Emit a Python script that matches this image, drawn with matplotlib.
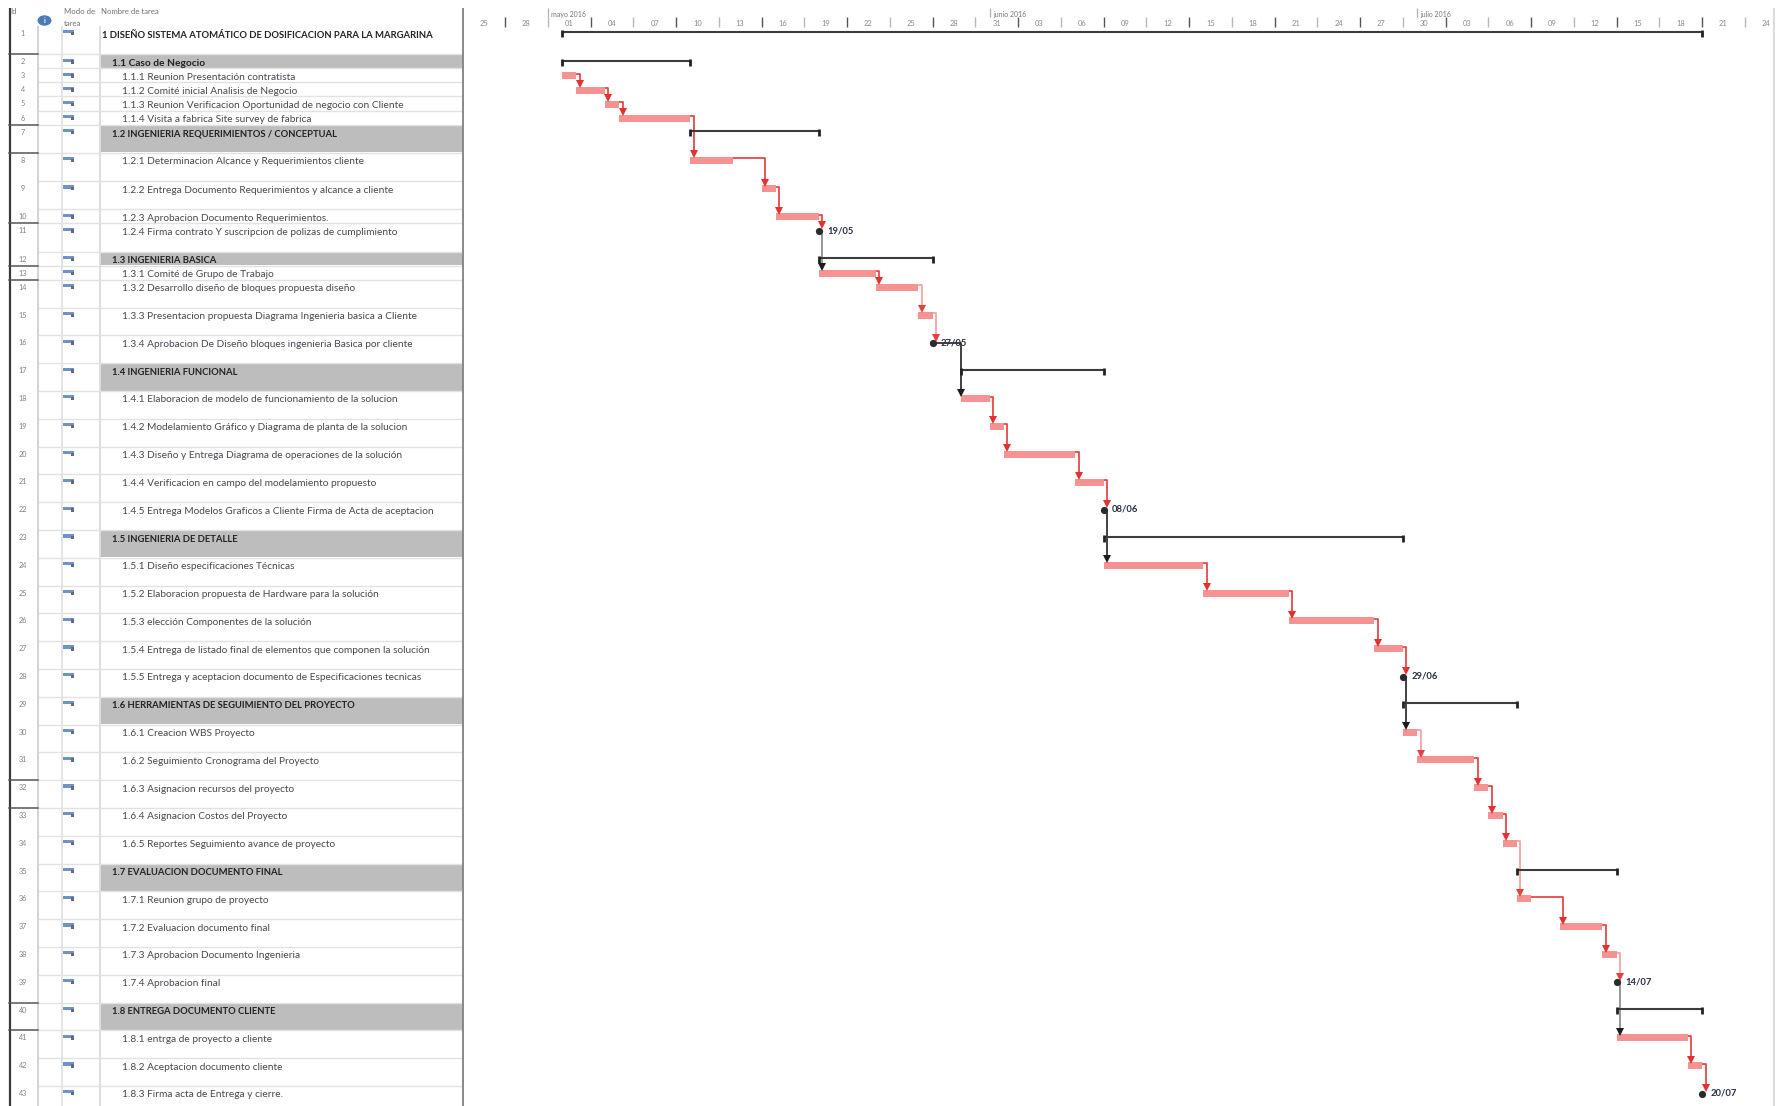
import matplotlib
matplotlib.use("Agg")
import matplotlib.pyplot as plt
import matplotlib.dates as mdates
from matplotlib.patches import Rectangle, Ellipse
from datetime import date, timedelta

plt.rcParams['font.family'] = ['Lato', 'DejaVu Sans']

W, H = 1783, 1106

task_names = [
    "1 DISEÑO SISTEMA ATOMÁTICO DE DOSIFICACION PARA LA MARGARINA",
    "1.1 Caso de Negocio",
    "1.1.1 Reunion Presentación contratista",
    "1.1.2 Comité inicial Analisis de Negocio",
    "1.1.3 Reunion Verificacion Oportunidad de negocio con Cliente",
    "1.1.4 Visita a fabrica Site survey de fabrica",
    "1.2 INGENIERIA REQUERIMIENTOS / CONCEPTUAL",
    "1.2.1 Determinacion Alcance y Requerimientos cliente",
    "1.2.2 Entrega Documento Requerimientos y alcance a cliente",
    "1.2.3 Aprobacion Documento Requerimientos.",
    "1.2.4 Firma contrato Y suscripcion de polizas de cumplimiento",
    "1.3 INGENIERIA BASICA",
    "1.3.1 Comité de Grupo de Trabajo",
    "1.3.2 Desarrollo diseño de bloques propuesta diseño",
    "1.3.3 Presentacion propuesta Diagrama Ingenieria basica a Cliente",
    "1.3.4 Aprobacion De Diseño bloques ingenieria Basica por cliente",
    "1.4 INGENIERIA FUNCIONAL",
    "1.4.1 Elaboracion de modelo de funcionamiento de la solucion",
    "1.4.2 Modelamiento Gráfico y Diagrama de planta de la solucion",
    "1.4.3 Diseño y Entrega Diagrama de operaciones de la solución",
    "1.4.4 Verificacion en campo del modelamiento propuesto",
    "1.4.5 Entrega Modelos Graficos a Cliente Firma de Acta de aceptacion",
    "1.5 INGENIERIA DE DETALLE",
    "1.5.1 Diseño especificaciones Técnicas",
    "1.5.2 Elaboracion propuesta de Hardware para la solución",
    "1.5.3 elección Componentes de la solución",
    "1.5.4 Entrega de listado final de elementos que componen la solución",
    "1.5.5 Entrega y aceptacion documento de Especificaciones tecnicas",
    "1.6 HERRAMIENTAS DE SEGUIMIENTO DEL PROYECTO",
    "1.6.1 Creacion WBS Proyecto",
    "1.6.2 Seguimiento Cronograma del Proyecto",
    "1.6.3 Asignacion recursos del proyecto",
    "1.6.4 Asignacion Costos del Proyecto",
    "1.6.5 Reportes Seguimiento avance de proyecto",
    "1.7 EVALUACION DOCUMENTO FINAL",
    "1.7.1 Reunion grupo de proyecto",
    "1.7.2 Evaluacion documento final",
    "1.7.3 Aprobacion Documento Ingenieria",
    "1.7.4 Aprobacion final",
    "1.8 ENTREGA DOCUMENTO CLIENTE",
    "1.8.1 entrga de proyecto a cliente",
    "1.8.2 Aceptacion documento cliente",
    "1.8.3 Firma acta de Entrega y cierre.",
]
# 0 project, 1 summary, 2 task, 3 milestone
task_kind = [0, 1, 2, 2, 2, 2, 1, 2, 2, 2, 3, 1, 2, 2, 2, 3, 1, 2, 2, 2, 2, 3,
             1, 2, 2, 2, 2, 3, 1, 2, 2, 2, 2, 2, 1, 2, 2, 2, 3, 1, 2, 2, 3]
row_units = [2, 1, 1, 1, 1, 1, 2, 2, 2, 1, 2, 1, 1] + [2] * 30
# days counted from the project start, 2 May 2016
task_start = [0, 0, 0, 1, 3, 4, 9, 9, 14, 15, 18, 18, 18, 22, 25, 26, 28, 28, 30, 31, 36, 38,
              38, 38, 45, 51, 57, 59, 59, 59, 60, 64, 65, 66, 67, 67, 70, 73, 74, 74, 74, 79, 80]
task_end = [80, 9, 1, 3, 4, 9, 18, 12, 15, 18, 18, 26, 22, 25, 26, 26, 38, 30, 31, 36, 38, 38,
            59, 45, 51, 57, 59, 59, 67, 60, 64, 65, 66, 67, 74, 68, 73, 74, 74, 80, 79, 80, 80]
milestone_labels = {11: "19/05", 16: "27/05", 22: "08/06", 28: "29/06", 39: "14/07", 43: "20/07"}
# predecessor Id, successor Id, line colour key
links = [(3, 4, 'r'), (4, 5, 'r'), (5, 6, 'r'), (6, 8, 'r'), (8, 9, 'r'), (9, 10, 'r'), (10, 11, 'r'),
         (11, 13, 'g'), (13, 14, 'r'), (14, 15, 'p'), (15, 16, 'p'), (16, 18, 'k'),
         (18, 19, 'r'), (19, 20, 'r'), (20, 21, 'r'), (21, 22, 'r'), (22, 24, 'k'),
         (24, 25, 'r'), (25, 26, 'r'), (26, 27, 'r'), (27, 28, 'r'), (28, 30, 'k'),
         (30, 31, 'p'), (31, 32, 'r'), (32, 33, 'r'), (33, 34, 'r'), (34, 36, 'p'),
         (36, 37, 'r'), (37, 38, 'r'), (38, 39, 'p'), (39, 41, 'g'), (41, 42, 'r'), (42, 43, 'r')]
id_dark_rules = [2, 7, 8, 11, 13, 14, 32, 33, 40, 41]
axis_labels = ["25", "28", "01", "04", "07", "10", "13", "16", "19", "22", "25", "28", "31", "03", "06",
               "09", "12", "15", "18", "21", "24", "27", "30", "03", "06", "09", "12", "15", "18", "21", "24"]
axis_first = date(2016, 4, 25)
month_names = ["mayo 2016", "junio 2016", "julio 2016"]
month_starts = [date(2016, 5, 1), date(2016, 6, 1), date(2016, 7, 1)]
project_start = date(2016, 5, 2)

PX_DAY = 14.25
X0 = 562.0
GL, GR = 464, 1775

BAR = '#f59393'
LINK = {'r': '#e6403f', 'p': '#f3a0a0', 'k': '#2a2a2a', 'g': '#8a8a8a'}
HEAD = {'r': '#e6302f', 'p': '#e6403f', 'k': '#1c1c1c', 'g': '#1c1c1c'}

fig = plt.figure(figsize=(W / 100, H / 100), dpi=100, facecolor='white')
tb = fig.add_axes([0, 0, GL / W, 1])
tb.set_xlim(0, GL)
tb.set_ylim(H, 0)
tb.axis('off')
ga = fig.add_axes([GL / W, 0, (GR - GL) / W, 1])
ga.set_ylim(H, 0)
base = mdates.date2num(project_start)
ga.set_xlim(base + (GL - X0) / PX_DAY, base + (GR - X0) / PX_DAY)
ga.axis('off')

# row geometry
tops = []
y = 26.0
for i, u in enumerate(row_units):
    tops.append(y)
    y += u * (14.1 if i < 13 else 13.9)
tops.append(y)

# ---------- table ----------
tb.plot([9.5, 9.5], [8, H], color='#3a3a3a', lw=1.6, solid_capstyle='butt')
tb.plot([463, 463], [8, H], color='#808080', lw=1.3, solid_capstyle='butt')
for x, c, lw, y0 in [(38, '#d4d4d4', 1.4, 26), (62, '#e4e4e4', 1.4, 26), (100, '#d8d8d8', 1.2, 26)]:
    tb.plot([x, x], [y0, H], color=c, lw=lw, solid_capstyle='butt', zorder=1)

tb.text(10, 11, "Id", fontsize=5.6, color='#707070', va='center', ha='left')
tb.text(64, 11.5, "Modo de", fontsize=5.6, color='#707070', va='center', ha='left')
tb.text(64, 23, "tarea", fontsize=5.6, color='#707070', va='center', ha='left')
tb.text(101, 11.5, "Nombre de tarea", fontsize=5.6, color='#707070', va='center', ha='left')
tb.add_patch(Ellipse((44.5, 20.5), 12.5, 9, color='#4a7db8', zorder=3))
tb.text(44.5, 20.5, "i", fontsize=5, color='white', va='center', ha='center', zorder=4, fontweight='bold')

for i, (name, kind) in enumerate(zip(task_names, task_kind)):
    rid = i + 1
    t, b = tops[i], tops[i + 1]
    if kind == 1:
        tb.add_patch(Rectangle((100.5, t + 1), 362, b - t - 1.5, color='#bdbdbd', lw=0, zorder=1))
    if i > 0:
        tb.plot([39, 463], [t, t], color='#e2e2e2', lw=1.0, zorder=1.5)
    if rid in id_dark_rules:
        tb.plot([9, 38], [t, t], color='#555555', lw=1.1, zorder=2)
    tb.text(23, t + 7.5, str(rid), fontsize=5.2, color='#808080', va='center', ha='center')
    tb.add_patch(Rectangle((62.5, t + 4.3), 11, 3.2, color='#6f94c4', lw=0, zorder=3))
    tb.add_patch(Rectangle((70.5, t + 6), 3.5, 3.4, color='#5d6d85', lw=0, zorder=3))
    indent = {0: 102, 1: 111.5}.get(kind, 121.7)
    bold = kind in (0, 1)
    size = 7.3
    if bold and name.upper() == name:
        size = 6.8
    tb.text(indent, t + 9, name, fontsize=size, va='center', ha='left', zorder=4,
            color='#222222' if bold else '#45484f', fontweight='bold' if bold else 'normal')

# ---------- time scale ----------
ga.plot([base + (GR - 1 - X0) / PX_DAY] * 2, [8, H], color='#dcdcdc', lw=1.6, solid_capstyle='butt')
for k, lab in enumerate(axis_labels):
    d = axis_first + timedelta(days=3 * k)
    xn = mdates.date2num(d)
    if k > 0:
        col = '#555555' if k % 2 == 1 else '#b8b8b8'
        ga.vlines(xn, 16.5, 27, color=col, lw=1.0)
    ga.text(xn + 1.5, 23.5, lab, fontsize=5.4, color='#8a8a8a', ha='center', va='center')
for d, nm in zip(month_starts, month_names):
    xn = mdates.date2num(d)
    ga.vlines(xn, 8, 17, color='#b0b0b0', lw=0.9)
    ga.text(xn + 0.25, 14, nm, fontsize=5.0, color='#777777', ha='left', va='center')

# ---------- links (under bars) ----------
def center(rid):
    return tops[rid - 1] + 7.6

for p, s, key in links:
    pe = base + task_end[p - 1]
    sx = base + task_start[s - 1] + (0.0 if s == 18 else 0.25)
    y0 = center(p) - (0 if task_kind[p - 1] == 3 else 2.0)
    tip = center(s) - (6.0 if task_kind[s - 1] != 3 else 5.5)
    ga.plot([pe, sx, sx], [y0, y0, tip], color=LINK[key], lw=1.25, zorder=3,
            solid_joinstyle='round', solid_capstyle='butt')
    ga.plot([sx], [tip], marker='v', ms=5.5, color=HEAD[key], mew=0, zorder=6, ls='none')

# ---------- marks ----------
for i, kind in enumerate(task_kind):
    rid = i + 1
    xs, xe = base + task_start[i], base + task_end[i]
    if kind in (0, 1):
        yy = tops[i] + 6.5 if kind == 1 else 32
        ga.plot([xs, xe], [yy, yy], color='#3c3c3c', lw=1.5, zorder=4, solid_capstyle='butt')
        ga.vlines([xs, xe], yy - 2, yy + 5, color='#222222', lw=2.0, zorder=4)
    elif kind == 2:
        ga.barh(center(rid), xe - xs, left=xs, height=7.0, color=BAR, lw=0, zorder=5)
    else:
        ga.plot([xs], [center(rid)], marker='o', ms=5.2, color='#2b2b2b', mew=0, zorder=7, ls='none')
        ga.text(xs + 0.6, center(rid) - 0.5, milestone_labels[rid], fontsize=6.8, fontweight='bold',
                color='#2a2f45', va='center', ha='left', zorder=8)

fig.savefig('out.png', dpi=100, facecolor='white')
